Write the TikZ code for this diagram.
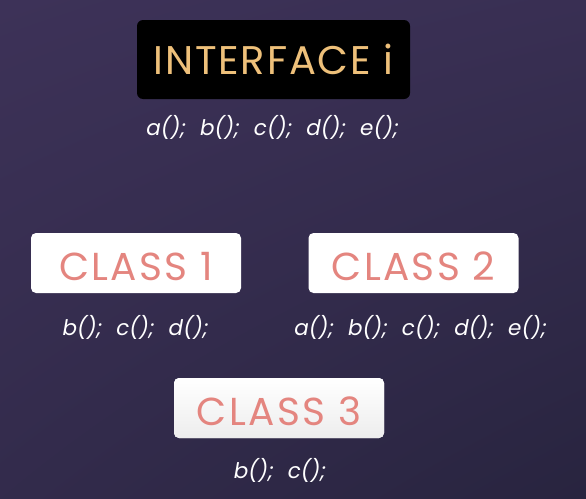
\documentclass[tikz,border=0pt]{standalone}
\usepackage{fontspec}
\setmainfont{Poppins}
\newfontfamily\titlefont[LetterSpace=6]{Poppins}
\newfontfamily\ifacefont[LetterSpace=4.5]{Poppins}
\newfontfamily\methodfont[WordSpace=2.2]{Poppins}
\usepackage{tikz}
\usetikzlibrary{shadings}

\definecolor{bgtl}{HTML}{3D3258}
\definecolor{bgbr}{HTML}{28243F}
\definecolor{ifgold}{HTML}{EEC07A}
\definecolor{clsalmon}{HTML}{E4857F}

\begin{document}
\begin{tikzpicture}[x=1pt, y=-1pt,
	ifbox/.style={fill=black, rounded corners=6pt, minimum width=273pt, minimum height=79pt, text=ifgold, font=\ifacefont\fontsize{40}{44}\selectfont},
	clbox/.style={fill=white, rounded corners=5pt, minimum width=210pt, minimum height=60pt, text height=35pt, text depth=0pt, inner ysep=0pt, text=clsalmon, font=\titlefont\fontsize{39}{44}\selectfont},
	methods/.style={text=white, font=\methodfont\fontsize{21.5}{26}\selectfont\itshape}]
	%background
	\useasboundingbox (0,0) rectangle (586,498);
	\shade[upper left=bgtl, upper right=bgtl!80!bgbr, lower left=bgtl!50!bgbr, lower right=bgbr] (0,0) rectangle (586,498);
	%interface
	\node[ifbox] (iface) at (273.5,59.5) {INTERFACE i};
	\node[methods] (iface methods) at (272.5,127) {a(); b(); c(); d(); e();};
	%classes
	\node[clbox] (class1) at (136,263) {CLASS 1};
	\node[methods] (class1 methods) at (135.5,327) {b(); c(); d();};
	\node[clbox] (class2) at (413.5,263) {CLASS 2};
	\node[methods] (class2 methods) at (420.5,327) {a(); b(); c(); d(); e();};
	\node[clbox, top color=white, bottom color=black!7] (class3) at (279,408) {CLASS 3};
	\node[methods] (class3 methods) at (280,470) {b(); c();};
\end{tikzpicture}
\end{document}
